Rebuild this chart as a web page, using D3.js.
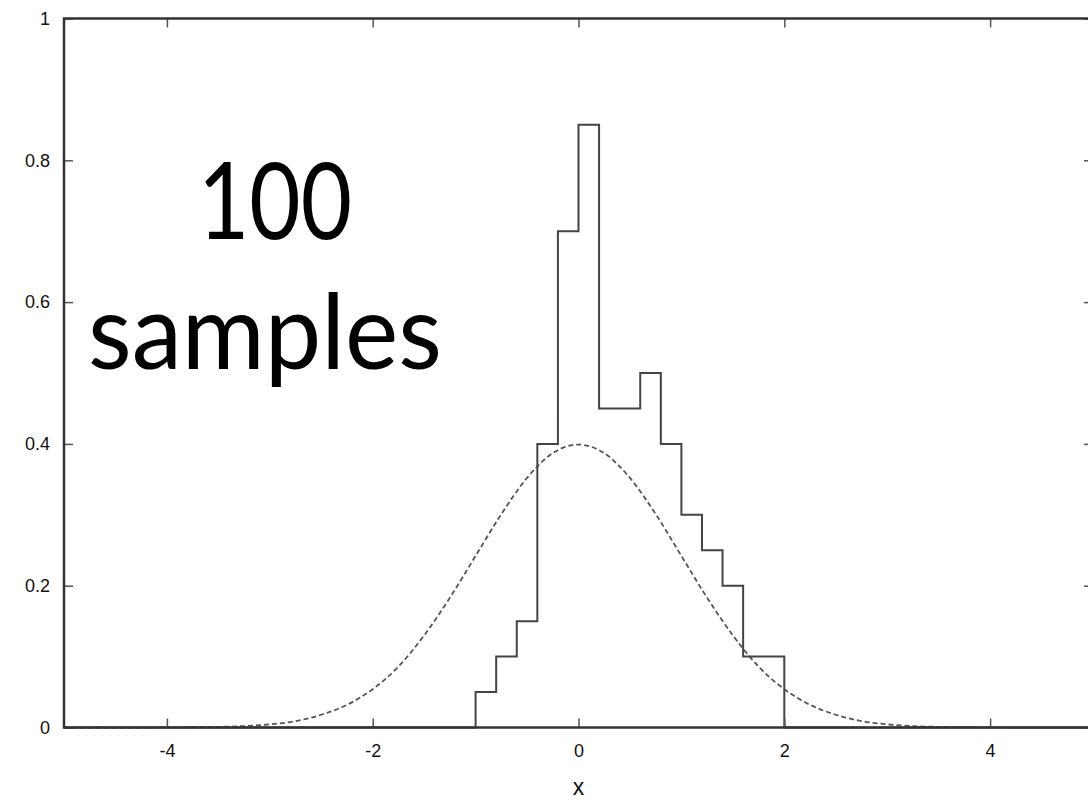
<!DOCTYPE html>
<html>
<head>
<meta charset="utf-8">
<script src="https://cdn.jsdelivr.net/npm/d3@7"></script>
<style>
  body { margin: 0; background: #fff; }
  svg { display: block; }
  .tick text { font-family: 'Liberation Sans', Arial, sans-serif; font-size: 18px; }
</style>
</head>
<body>
<div id="chart"></div>
<script>
// histogram bins (left edge, width 0.2) and their density
const binStarts = [-1.0, -0.8, -0.6, -0.4, -0.2, 0.0, 0.2, 0.4, 0.6, 0.8, 1.0, 1.2, 1.4, 1.6, 1.8];
const binDensity = [0.05, 0.10, 0.15, 0.40, 0.70, 0.85, 0.45, 0.45, 0.50, 0.40, 0.30, 0.25, 0.20, 0.10, 0.10];
const binWidth = 0.2;

// dashed reference curve
const curveX = [-5, -4.5, -4, -3.75, -3.5, -3.25, -3, -2.75, -2.5, -2.25, -2, -1.75, -1.5, -1.25, -1, -0.75, -0.5, -0.25,
    0, 0.25, 0.5, 0.75, 1, 1.25, 1.5, 1.75, 2, 2.25, 2.5, 2.75, 3, 3.25, 3.5, 3.75, 4, 4.5, 5];
const curveY = [0, 0, 0.0001, 0.0004, 0.0009, 0.002, 0.0044, 0.009, 0.018, 0.032, 0.054, 0.086, 0.130, 0.183, 0.242, 0.301, 0.352, 0.387,
    0.399, 0.387, 0.352, 0.301, 0.242, 0.183, 0.130, 0.086, 0.054, 0.032, 0.018, 0.009, 0.0044, 0.002, 0.0009, 0.0004, 0.0001, 0, 0];

const xTicks = [-4, -2, 0, 2, 4];
const yTicks = [0, 0.2, 0.4, 0.6, 0.8, 1];

const width = 1088, height = 802;
const plot = {left: 64, right: 1093, top: 18.5, bottom: 727.5};

const svg = d3.select("#chart")
    .append("svg")
    .attr("width", width)
    .attr("height", height);

let xScale = d3.scaleLinear().domain([-5, 5]).range([plot.left, plot.right]);
let yScale = d3.scaleLinear().domain([0, 1]).range([plot.bottom, plot.top]);

// step outline of the histogram, running along zero outside the bins
let histPoints = [[-5, 0]];
binStarts.forEach(function (b, i) {
    histPoints.push([b, binDensity[i]]);
});
histPoints.push([binStarts[binStarts.length - 1] + binWidth, 0]);
histPoints.push([5, 0]);

let stepLine = d3.line()
    .x(d => xScale(d[0]))
    .y(d => yScale(d[1]))
    .curve(d3.curveStepAfter);

let smoothLine = d3.line()
    .x((d, i) => xScale(curveX[i]))
    .y(d => yScale(d))
    .curve(d3.curveMonotoneX);

svg.append("path")
    .datum(curveY)
    .attr("fill", "none")
    .attr("stroke", "#555")
    .attr("stroke-width", 1.8)
    .attr("stroke-dasharray", "5,3")
    .attr("d", smoothLine);

svg.append("path")
    .datum(histPoints)
    .attr("fill", "none")
    .attr("stroke", "#444")
    .attr("stroke-width", 2)
    .attr("d", stepLine);

// axes with inward ticks
function styleAxis(g) {
    g.select(".domain").remove();
    g.selectAll(".tick line").attr("stroke", "#555").attr("stroke-width", 1.5);
    g.selectAll(".tick text").attr("fill", "#111");
}

svg.append("g")
    .attr("transform", `translate(0,${plot.bottom})`)
    .call(d3.axisBottom(xScale).tickValues(xTicks).tickSize(-9).tickPadding(17).tickFormat(d => d))
    .call(styleAxis);

svg.append("g")
    .attr("transform", `translate(0,${plot.top})`)
    .call(d3.axisTop(xScale).tickValues(xTicks).tickSize(-9).tickFormat(""))
    .call(styleAxis);

svg.append("g")
    .attr("transform", `translate(${plot.left},0)`)
    .call(d3.axisLeft(yScale).tickValues(yTicks).tickSize(-9).tickPadding(14).tickFormat(d => d))
    .call(styleAxis);

svg.append("g")
    .attr("transform", `translate(${plot.right},0)`)
    .call(d3.axisRight(yScale).tickValues(yTicks).tickSize(-9).tickFormat(""))
    .call(styleAxis);

// frame
svg.append("rect")
    .attr("x", plot.left)
    .attr("y", plot.top)
    .attr("width", plot.right - plot.left)
    .attr("height", plot.bottom - plot.top)
    .attr("fill", "none")
    .attr("stroke", "#333")
    .attr("stroke-width", 2.5);

svg.append("text")
    .attr("x", xScale(0))
    .attr("y", 795)
    .attr("text-anchor", "middle")
    .style("font-family", "'Liberation Sans', Arial, sans-serif")
    .style("font-size", "23px")
    .attr("fill", "#111")
    .text("x");

// big annotation
svg.append("text")
    .attr("x", 198)
    .attr("y", 239)
    .attr("textLength", 154)
    .attr("lengthAdjust", "spacingAndGlyphs")
    .style("font-family", "Lato, sans-serif")
    .style("font-size", "107px")
    .attr("fill", "#000")
    .text("100");

svg.append("text")
    .attr("x", 88)
    .attr("y", 369)
    .attr("textLength", 354)
    .attr("lengthAdjust", "spacingAndGlyphs")
    .style("font-family", "Lato, sans-serif")
    .style("font-size", "105px")
    .attr("fill", "#000")
    .text("samples");
</script>
</body>
</html>
